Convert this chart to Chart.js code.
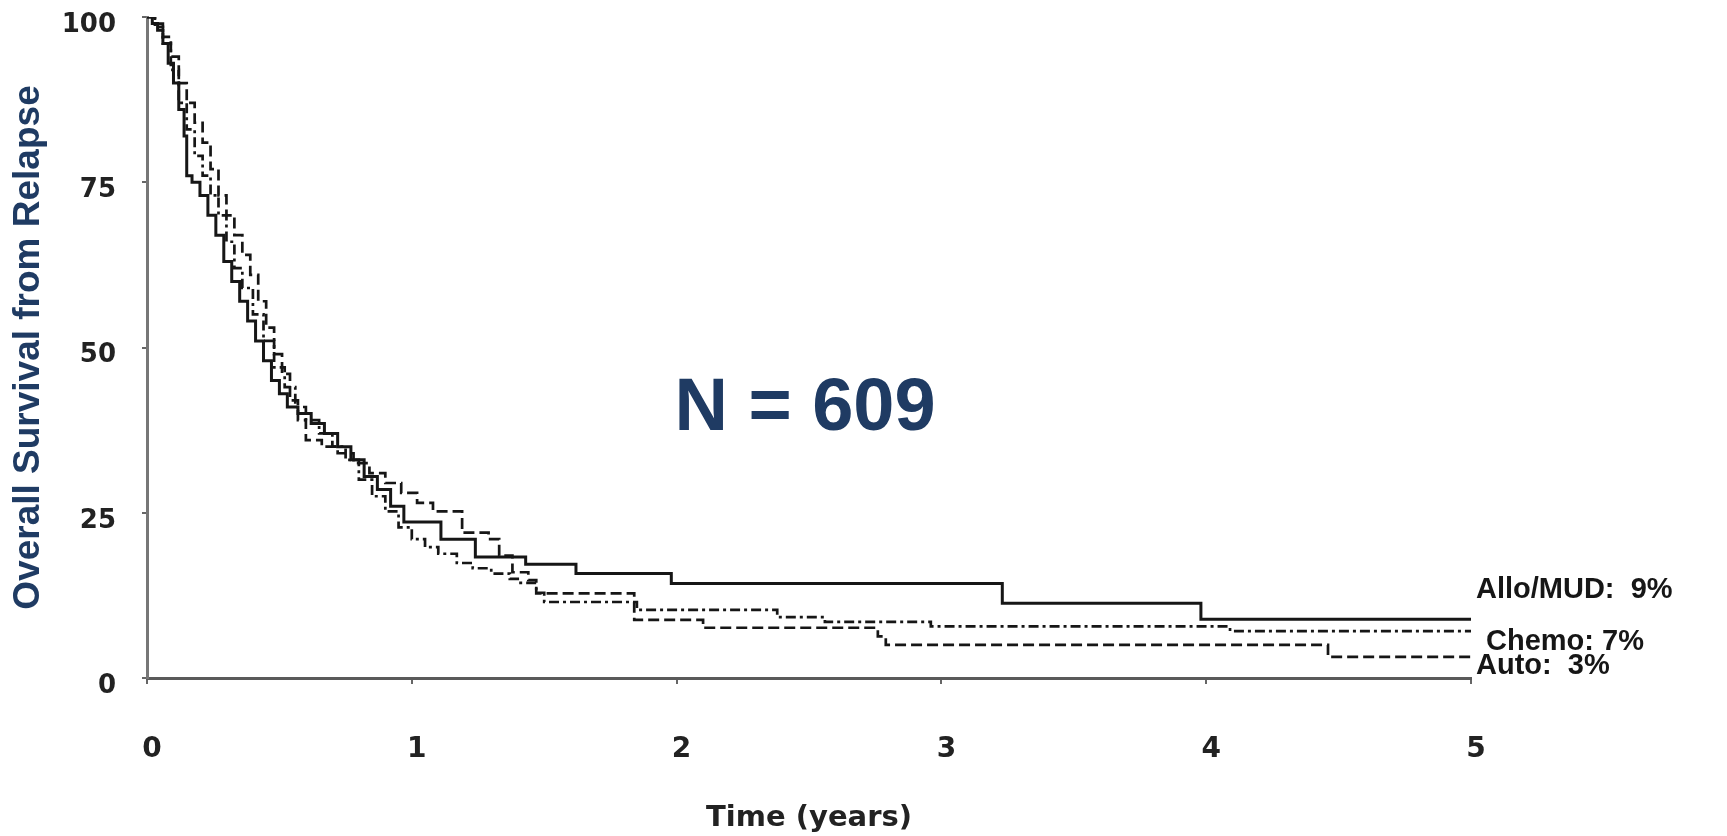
<!DOCTYPE html>
<html><head><meta charset="utf-8">
<script src="https://cdn.jsdelivr.net/npm/chart.js@4.4.1/dist/chart.umd.min.js"></script>
<style>html,body{margin:0;padding:0;background:#fff;overflow:hidden}#wrap{width:1727px;height:836px;position:relative}canvas{display:block}</style>
</head><body><div id="wrap"><canvas id="c" width="1727" height="836"></canvas></div>
<script>
// ---- data ----
const seriesNames = ['Allo/MUD', 'Chemo', 'Auto'];
const endPercents = [9, 7, 3];

const alloYears    = [0, 0.02, 0.04, 0.06, 0.08, 0.10, 0.12, 0.14, 0.15, 0.17, 0.20, 0.23, 0.26, 0.29, 0.32, 0.35, 0.38, 0.41, 0.44, 0.47, 0.50, 0.53, 0.57, 0.62, 0.67, 0.72, 0.77, 0.82, 0.87, 0.92, 0.97, 1.11, 1.24, 1.43, 1.62, 1.98, 3.23, 3.98, 5.0];
const alloSurvival = [100, 99, 98, 96, 93, 90, 86, 82, 76, 75, 73, 70, 67, 63, 60, 57, 54, 51, 48, 45, 43, 41, 40, 38.5, 37, 35, 33, 30.5, 28.5, 26, 23.6, 21, 18.3, 17.2, 15.8, 14.3, 11.3, 8.9, 8.9];

const chemoYears    = [0, 0.03, 0.06, 0.09, 0.12, 0.15, 0.18, 0.21, 0.24, 0.27, 0.30, 0.33, 0.36, 0.40, 0.44, 0.48, 0.52, 0.56, 0.60, 0.65, 0.70, 0.75, 0.80, 0.85, 0.90, 0.95, 1.00, 1.05, 1.10, 1.17, 1.23, 1.30, 1.37, 1.40, 1.47, 1.50, 1.85, 2.38, 2.56, 2.96, 4.09, 5.0];
const chemoSurvival = [100, 98.5, 96, 92, 87, 83, 79, 76, 73, 70, 66, 62, 59, 55, 51, 47, 44, 41, 39, 37, 35, 33, 30, 27.5, 25.2, 22.8, 21, 19.8, 18.8, 17.4, 16.6, 15.8, 15, 14.4, 12.9, 11.5, 10.3, 9.2, 8.5, 7.8, 7.1, 7.1];

const autoYears    = [0, 0.03, 0.06, 0.09, 0.12, 0.15, 0.18, 0.21, 0.24, 0.27, 0.30, 0.33, 0.36, 0.39, 0.42, 0.45, 0.48, 0.51, 0.54, 0.57, 0.60, 0.66, 0.72, 0.78, 0.84, 0.90, 0.96, 1.02, 1.08, 1.19, 1.29, 1.33, 1.38, 1.44, 1.47, 1.84, 2.10, 2.76, 2.79, 4.46, 5.0];
const autoSurvival = [100, 99, 97, 94, 90, 87, 84, 81, 77, 73, 70, 67, 64, 61, 57, 53, 49, 46, 42, 39, 36, 35, 34, 32.5, 31, 29.5, 28, 26.5, 25.2, 22, 21, 18.5, 16, 14.8, 12.8, 8.8, 7.6, 6.3, 5.0, 3.2, 3.2];

const xTickValues = [0, 1, 2, 3, 4, 5];
const yTickValues = [0, 25, 50, 75, 100];
const xTitle = 'Time (years)';
const yTitle = 'Overall Survival from Relapse';
const annotationText = 'N = 609';

// ---- chart ----
const toPoints = (xs, ys) => xs.map((t, i) => ({ x: t, y: ys[i] }));
const NAVY = '#1f3b63';
const INK = '#161616';

const textPlugin = {
  id: 'extraText',
  afterDatasetsDraw(chart) {
    const { ctx } = chart;
    const x = chart.scales.x, y = chart.scales.y;
    ctx.save();
    ctx.fillStyle = NAVY;
    ctx.font = 'bold 74px "Liberation Sans", Arial, sans-serif';
    ctx.textAlign = 'center';
    ctx.textBaseline = 'alphabetic';
    ctx.fillText(annotationText, x.getPixelForValue(2.5) - 4, y.getPixelForValue(37.5));

    ctx.fillStyle = INK;
    ctx.font = 'bold 29px "Liberation Sans", Arial, sans-serif';
    ctx.textAlign = 'left';
    const right = x.getPixelForValue(5);
    ctx.fillText(seriesNames[0] + ':  ' + endPercents[0] + '%', right + 5, y.getPixelForValue(12.1));
    ctx.fillText(seriesNames[1] + ': ' + endPercents[1] + '%', right + 15, y.getPixelForValue(4.2));
    ctx.fillText(seriesNames[2] + ':  ' + endPercents[2] + '%', right + 5, y.getPixelForValue(0.6));
    ctx.restore();
  }
};

const tickFont = (s) => ({ family: '"DejaVu Sans", sans-serif', size: s, weight: 'bold' });

new Chart(document.getElementById('c'), {
  type: 'line',
  data: {
    datasets: [
      { label: seriesNames[0], data: toPoints(alloYears, alloSurvival), stepped: 'before',
        borderColor: INK, borderWidth: 3, pointRadius: 0, fill: false },
      { label: seriesNames[1], data: toPoints(chemoYears, chemoSurvival), stepped: 'before',
        borderColor: INK, borderWidth: 2.7, borderDash: [10, 4, 3, 4], pointRadius: 0, fill: false },
      { label: seriesNames[2], data: toPoints(autoYears, autoSurvival), stepped: 'before',
        borderColor: INK, borderWidth: 2.7, borderDash: [11, 5], pointRadius: 0, fill: false }
    ]
  },
  options: {
    responsive: false,
    animation: false,
    devicePixelRatio: 1,
    layout: { padding: { left: 0, top: 17, right: 256, bottom: 0 } },
    plugins: { legend: { display: false }, tooltip: { enabled: false } },
    scales: {
      x: {
        type: 'linear', min: 0, max: 5,
        afterBuildTicks: s => { s.ticks = xTickValues.map(v => ({ value: v })); },
        afterFit: s => { s.height = 158; s.paddingLeft = 0; s.paddingRight = 0; },
        grid: { drawOnChartArea: false, drawTicks: true, tickLength: 6, color: '#666', lineWidth: 2 },
        border: { display: true, color: '#5a5a5a', width: 3 },
        ticks: { font: tickFont(28), color: '#222', padding: 49, labelOffset: 5, maxRotation: 0, autoSkip: false },
        title: { display: true, text: xTitle, font: tickFont(29), color: '#222', padding: { top: 0, bottom: 0 } }
      },
      y: {
        type: 'linear', min: 0, max: 100,
        afterBuildTicks: s => { s.ticks = yTickValues.map(v => ({ value: v })); },
        afterFit: s => { s.width = 147; s.paddingTop = 0; s.paddingBottom = 0; },
        grid: { drawOnChartArea: false, drawTicks: true, tickLength: 5, color: '#666', lineWidth: 2 },
        border: { display: true, color: '#777', width: 3 },
        ticks: { font: tickFont(26), color: '#222', padding: 26, labelOffset: 8, autoSkip: false },
        title: { display: true, text: yTitle, color: NAVY,
                 font: { family: '"Liberation Sans", Arial, sans-serif', size: 37, weight: 'bold' },
                 padding: { top: 7, bottom: 0 } }
      }
    }
  },
  plugins: [textPlugin]
});
</script>
</body></html>
